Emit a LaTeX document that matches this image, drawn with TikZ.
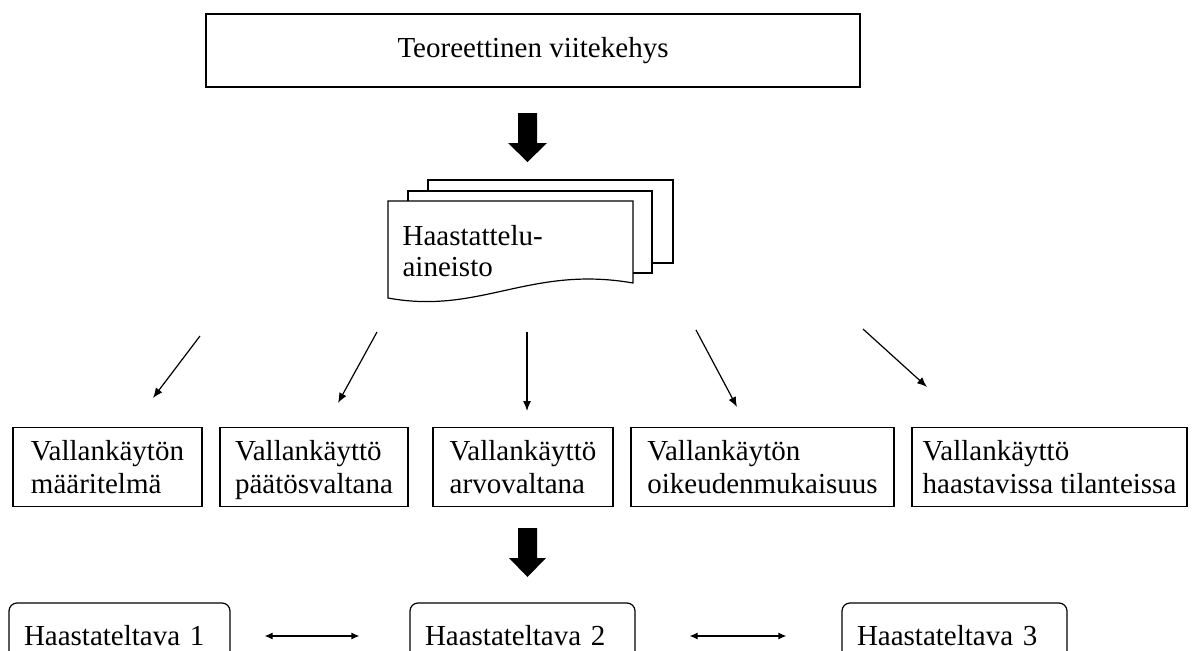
\documentclass[tikz,border=0pt]{standalone}
\usepackage{fontspec}
\setmainfont{Liberation Serif}
\usetikzlibrary{arrows.meta,positioning}

\begin{document}
\begin{tikzpicture}[x=1pt,y=-1pt,line width=1.2pt,
  every node/.style={font=\fontsize{29}{33}\selectfont},
  box/.style={draw,minimum height=79pt,align=left,inner sep=0pt},
  person/.style={draw,rounded corners=8pt,minimum height=66pt,align=left,inner xsep=15pt},
  pointer/.style={line width=1.2pt,-{Latex[length=10pt,width=8pt]}},
  twoway/.style={line width=1.2pt,{Latex[length=8pt,width=7pt]}-{Latex[length=8pt,width=7pt]}}]
\useasboundingbox (0,0) rectangle (1203,651);
\clip (0,0) rectangle (1203,651);
% teoria
\node[draw,minimum width=654pt,minimum height=73pt] (teoria) at (533,50.5) {Teoreettinen viitekehys};
\fill (518,113) -- (537,113) -- (537,143) -- (547,143) -- (527.5,162) -- (508,143) -- (518,143) -- cycle;
% aineistopino
\filldraw[fill=white] (428,180) rectangle (673,263);
\filldraw[fill=white] (408,191) rectangle (652,273);
\filldraw[fill=white] (388,201) -- (633,201) -- (633,283) .. controls (530,265) and (480,315) .. (388,298) -- cycle;
\node[align=left,anchor=west,inner sep=2pt,font=\fontsize{29}{31}\selectfont] (aineisto) at (400,251) {Haastattelu-\\aineisto};
% teemat
\node[box,minimum width=189pt] (maaritelma) at (107.5,467) {Vallankäytön\\määritelmä};
\node[box,minimum width=188pt] (paatos) at (314,467) {Vallankäyttö\\\smash{päätösvaltana}};
\node[box,minimum width=180pt] (arvo) at (523,467) {Vallankäyttö\\arvovaltana};
\node[box,minimum width=263pt] (oikeus) at (762.5,467) {Vallankäytön\\oikeudenmukaisuus};
\node[box,minimum width=275pt] (haaste) at (1049.5,467) {Vallankäyttö\\haastavissa tilanteissa};
\coordinate (a1) at (200,336); \coordinate (k1) at (153,398);
\coordinate (a2) at (377,332); \coordinate (k2) at (338,403);
\coordinate (a3) at (527,332); \coordinate (k3) at (527,411);
\coordinate (a4) at (696,330); \coordinate (k4) at (737,407);
\coordinate (a5) at (863,329); \coordinate (k5) at (927,387);
\draw[pointer] (a1) -- (k1);
\draw[pointer] (a2) -- (k2);
\draw[pointer] (a3) -- (k3);
\draw[pointer] (a4) -- (k4);
\draw[pointer] (a5) -- (k5);
\fill (518,528) -- (537,528) -- (537,558) -- (546,558) -- (527.5,577) -- (509,558) -- (518,558) -- cycle;
% haastateltavat
\node[person,text width=191pt] (h1) at (119.5,636) {Haastateltava 1};
\node[person,text width=195pt] (h2) at (522.5,636) {Haastateltava 2};
\node[person,text width=195pt] (h3) at (954.5,636) {Haastateltava 3};
\draw[twoway,shorten <=34pt,shorten >=50pt] (h1) -- (h2);
\draw[twoway,shorten <=54pt,shorten >=55pt] (h2) -- (h3);
\end{tikzpicture}
\end{document}
